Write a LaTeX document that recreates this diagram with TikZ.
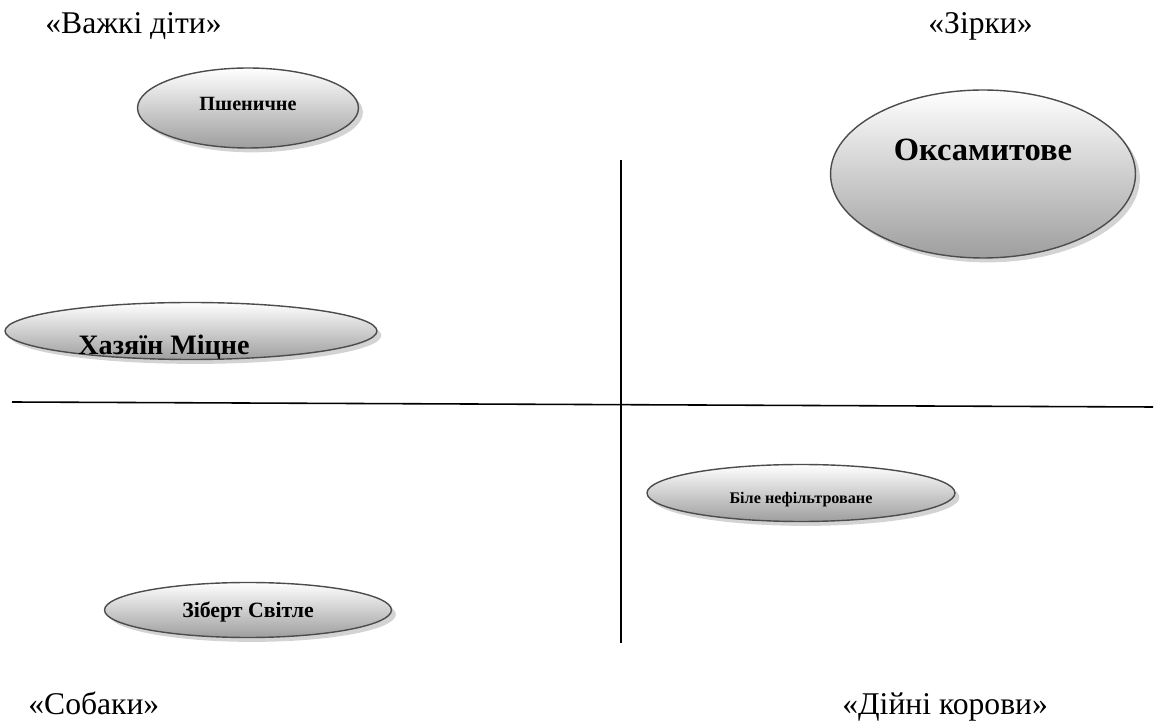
\documentclass[tikz,border=0pt]{standalone}
\usepackage{fontspec}
\setmainfont{Liberation Serif}[BoldFont={Liberation Serif Bold}]
\usetikzlibrary{shapes.geometric,shadows}

\tikzset{
	brand/.style={ellipse,draw=black!70,line width=0.8pt,inner sep=0pt,
		top color=white,bottom color=black!38,
		drop shadow={shadow xshift=2.5pt,shadow yshift=-2.5pt,opacity=0.35}},
	quad/.style={font=\fontsize{18}{20}\selectfont,inner sep=0pt},
	axis/.style={line width=0.9pt}
}

\begin{document}
\begin{tikzpicture}[x=0.02cm,y=-0.02cm]
	\useasboundingbox (0,0) rectangle (1160,722);
	% quadrant names
	\node[quad,anchor=base west] (q1) at (45,34) {«Важкі діти»};
	\node[quad,anchor=base west] (q2) at (928,34) {«Зірки»};
	\node[quad,anchor=base west] (q3) at (28,714) {«Собаки»};
	\node[quad,anchor=base west] (q4) at (842,714) {«Дійні корови»};
	% axes
	\coordinate (top) at (621,160);
	\coordinate (bot) at (621,643);
	\coordinate (lft) at (12,402);
	\coordinate (rgt) at (1153,407);
	\draw[axis] (top) -- (bot);
	\draw[axis] (lft) -- (rgt);
	% brands
	\node[brand,minimum width=4.42cm,minimum height=1.6cm,
		label={[font=\fontsize{11.5}{13}\bfseries,anchor=base,yshift=0.08cm]center:Пшеничне}] (psh) at (248,108) {};
	\node[brand,minimum width=6.1cm,minimum height=3.36cm,
		label={[font=\fontsize{18.5}{21}\bfseries,anchor=base,yshift=0.48cm]center:Оксамитове}] (oks) at (983,174) {};
	\node[brand,minimum width=7.44cm,minimum height=1.14cm,
		label={[font=\fontsize{16}{18}\bfseries,anchor=base,xshift=-0.54cm,yshift=-0.32cm]center:Хазяїн Міцне}] (haz) at (191,331) {};
	\node[brand,minimum width=6.16cm,minimum height=1.14cm,
		label={[font=\fontsize{9.2}{11}\bfseries,anchor=base,yshift=-0.14cm]center:Біле нефільтроване}] (bil) at (801,493) {};
	\node[brand,minimum width=5.74cm,minimum height=1.1cm,
		label={[font=\fontsize{12.4}{14}\bfseries,anchor=base,yshift=-0.04cm]center:Зіберт Світле}] (zib) at (248,610) {};
\end{tikzpicture}
\end{document}
